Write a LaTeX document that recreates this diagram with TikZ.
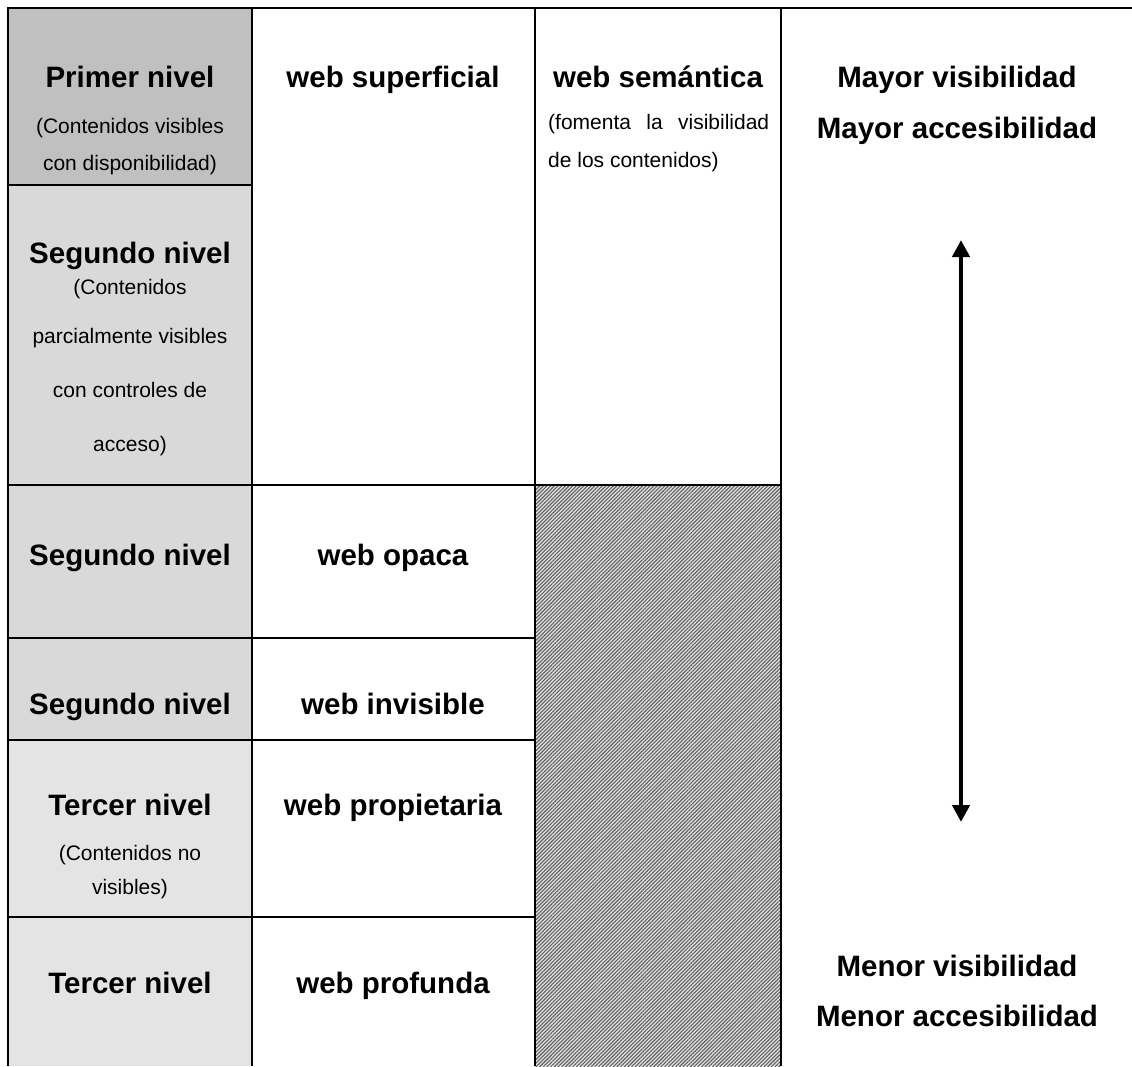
\documentclass[tikz,border=0pt]{standalone}
\usepackage{fontspec}
\setmainfont{Liberation Sans}
\usetikzlibrary{arrows.meta,patterns.meta}
\definecolor{levelone}{HTML}{C0C0C0}
\definecolor{leveltwo}{HTML}{D9D9D9}
\definecolor{levelthree}{HTML}{E4E4E4}
\begin{document}
\begin{tikzpicture}[x=1pt,y=-1pt,
  grid/.style={line width=2.2pt},
  head/.style={font=\fontsize{29.5}{34}\selectfont\bfseries, anchor=base, inner sep=0pt},
  note/.style={font=\fontsize{21}{25}\selectfont, anchor=base, inner sep=0pt},
  twoway/.style={line width=4.5pt, {Triangle[width=17pt,length=17pt]}-{Triangle[width=17pt,length=17pt]}},
]
\useasboundingbox (0,0) rectangle (1132,1066);

% cell shading of the level column
\fill[levelone]   (8,8)   rectangle (252,185);
\fill[leveltwo]   (8,185) rectangle (252,740);
\fill[levelthree] (8,740) rectangle (252,1066);

% hatched block under the semantic web column
\fill[black!12] (535,485) rectangle (781,1066);
\fill[pattern={Lines[angle=45,distance=2.6pt,line width=1.1pt]}, pattern color=black!62]
  (535,485) rectangle (781,1066);

% table rules
\draw[grid] (7,8) -- (1132,8);
\draw[grid] (8,8) -- (8,1066);
\draw[grid] (252,8) -- (252,1066);
\draw[grid] (535,8) -- (535,1066);
\draw[grid] (781,8) -- (781,1066);
\draw[grid] (8,185) -- (252,185);
\draw[grid] (8,485) -- (781,485);
\draw[grid] (8,638) -- (535,638);
\draw[grid] (8,740) -- (535,740);
\draw[grid] (8,917) -- (535,917);

% level column
\node[head] (l1) at (130,87) {Primer nivel};
\node[note] (l1a) at (130,133) {(Contenidos visibles};
\node[note] (l1b) at (130,170) {con disponibilidad)};

\node[head] (l2) at (130,263) {Segundo nivel};
\node[note] (l2a) at (130,294) {(Contenidos};
\node[note] (l2b) at (130,343) {parcialmente visibles};
\node[note] (l2c) at (130,397) {con controles de};
\node[note] (l2d) at (130,451) {acceso)};

\node[head] (l3) at (130,565) {Segundo nivel};
\node[head] (l4) at (130,714) {Segundo nivel};

\node[head] (l5) at (130,815) {Tercer nivel};
\node[note] (l5a) at (130,860) {(Contenidos no};
\node[note] (l5b) at (130,894) {visibles)};

\node[head] (l6) at (130,993) {Tercer nivel};

% web column
\node[head] (w1) at (393,87) {web superficial};
\node[head] (w2) at (393,565) {web opaca};
\node[head] (w3) at (393,714) {web invisible};
\node[head] (w4) at (393,815) {web propietaria};
\node[head] (w5) at (393,993) {web profunda};

% semantic web column
\node[head] (s1) at (658,87) {web semántica};
\node[note, anchor=base west] (s1a) at (548,129) {\makebox[221pt][s]{(fomenta la visibilidad}};
\node[note, anchor=base west] (s1b) at (548,167) {de los contenidos)};

% visibility scale
\node[head] (v1) at (957,87) {Mayor visibilidad};
\node[head] (v2) at (957,138) {Mayor accesibilidad};
\node[head] (v3) at (957,976) {Menor visibilidad};
\node[head] (v4) at (957,1026) {Menor accesibilidad};

\coordinate (up) at (961,240);
\coordinate (down) at (961,822);
\draw[twoway] (up) -- (down);
\end{tikzpicture}
\end{document}
